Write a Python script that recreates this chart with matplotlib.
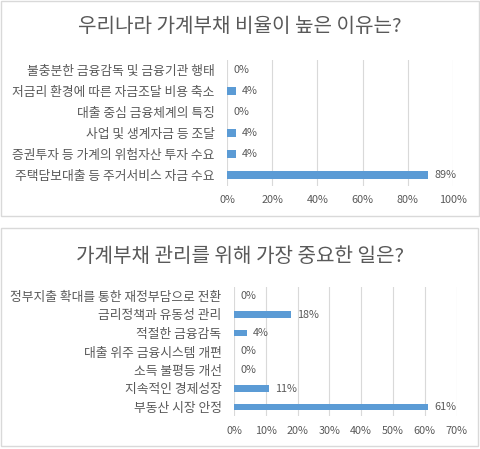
import matplotlib
matplotlib.use('Agg')
import matplotlib.pyplot as plt
from matplotlib.patches import Rectangle

plt.rcParams['font.family'] = ['Noto Sans CJK KR', 'DejaVu Sans']

# top chart
title1 = '우리나라 가계부채 비율이 높은 이유는?'
cats1 = ['불충분한 금융감독 및 금융기관 행태',
         '저금리 환경에 따른 자금조달 비용 축소',
         '대출 중심 금융체계의 특징',
         '사업 및 생계자금 등 조달',
         '증권투자 등 가계의 위험자산 투자 수요',
         '주택담보대출 등 주거서비스 자금 수요']
vals1 = [0, 4, 0, 4, 4, 89]
ticks1 = [0, 20, 40, 60, 80, 100]

# bottom chart
title2 = '가계부채 관리를 위해 가장 중요한 일은?'
cats2 = ['정부지출 확대를 통한 재정부담으로 전환',
         '금리정책과 유동성 관리',
         '적절한 금융감독',
         '대출 위주 금융시스템 개편',
         '소득 불평등 개선',
         '지속적인 경제성장',
         '부동산 시장 안정']
vals2 = [0, 18, 4, 0, 0, 11, 61]
ticks2 = [0, 10, 20, 30, 40, 50, 60, 70]

W, H = 480, 449
BAR = '#5B9BD5'
TXT = '#595959'
GRID = '#D9D9D9'

fig = plt.figure(figsize=(W / 100, H / 100), dpi=100)


def px_axes(x0, x1, y0, y1):
    return fig.add_axes([x0 / W, 1 - y1 / H, (x1 - x0) / W, (y1 - y0) / H])


def panel(x0, y0, x1, y1):
    fig.patches.append(Rectangle((x0 / W, 1 - y1 / H), (x1 - x0) / W, (y1 - y0) / H,
                                 transform=fig.transFigure, fill=False,
                                 edgecolor=GRID, linewidth=1))


def draw(ax, cats, vals, ticks):
    n = len(cats)
    ax.barh(range(n), vals, height=0.35, color=BAR)
    ax.set_ylim(n - 0.5, -0.5)
    ax.set_xlim(ticks[0], ticks[-1])
    ax.set_yticks(range(n))
    ax.set_yticklabels(cats, fontsize=9.2, color=TXT)
    ax.set_xticks(ticks)
    ax.set_xticklabels([f'{t}%' for t in ticks], fontsize=7.8, color=TXT)
    ax.tick_params(axis='both', length=0)
    ax.tick_params(axis='y', pad=9)
    ax.tick_params(axis='x', pad=7)
    for s in ax.spines.values():
        s.set_visible(False)
    ax.grid(axis='x', color=GRID, linewidth=0.8)
    ax.set_axisbelow(True)
    for i, v in enumerate(vals):
        ax.annotate(f'{v}%', (v, i), xytext=(4.5, 0), textcoords='offset points',
                    va='center', ha='left', fontsize=7.8, color=TXT)


panel(1, 1, 479, 216)
panel(1, 228, 478, 446)

ax1 = px_axes(227, 453, 59.5, 185.5)
draw(ax1, cats1, vals1, ticks1)
fig.text(240 / W, 1 - 27 / H, title1, ha='center', va='center', fontsize=14.5, color=TXT)

ax2 = px_axes(234, 456.5, 286.75, 416.25)
draw(ax2, cats2, vals2, ticks2)
fig.text(240 / W, 1 - 257 / H, title2, ha='center', va='center', fontsize=14.5, color=TXT)

fig.savefig('out.png', dpi=100)
